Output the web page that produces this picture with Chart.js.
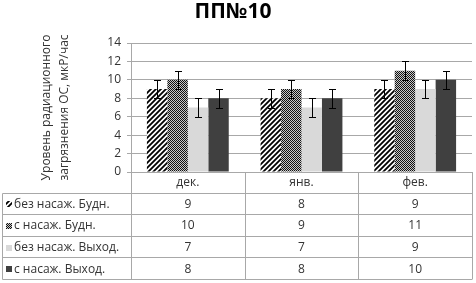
<!DOCTYPE html>
<html>
<head>
<meta charset="utf-8">
<script src="https://cdn.jsdelivr.net/npm/chart.js@4/dist/chart.umd.min.js"></script>
<style>
  html, body { margin: 0; padding: 0; background: #fff; }
  canvas { display: block; }
</style>
</head>
<body>
<canvas id="grafico" width="476" height="283"></canvas>
<script>
const titulo = 'ПП№10';
const eixoY = ['Уровень радиационного', 'загрязнения ОС, мкР/час'];
const meses = ['дек.', 'янв.', 'фев.'];
const series = ['без насаж. Будн.', 'с насаж. Будн.', 'без насаж. Выход.', 'с насаж. Выход.'];
const semNasBudn = [9, 8, 9];
const comNasBudn = [10, 9, 11];
const semNasVyh = [7, 7, 9];
const comNasVyh = [8, 8, 10];
const erros = [1, 1, 1];
const ticksY = [0, 2, 4, 6, 8, 10, 12, 14];

const texto = '#333';
const grade = '#a8a8a8';
Chart.defaults.font.family = "'Open Sans', sans-serif";
Chart.defaults.color = texto;

// padrões de preenchimento
function listras() {
  const c = document.createElement('canvas');
  c.width = 5; c.height = 5;
  const g = c.getContext('2d');
  g.fillStyle = '#fff'; g.fillRect(0, 0, 5, 5);
  g.strokeStyle = '#000'; g.lineWidth = 1.8;
  g.beginPath();
  g.moveTo(-1, 1); g.lineTo(1, -1);
  g.moveTo(0, 5); g.lineTo(5, 0);
  g.moveTo(4, 6); g.lineTo(6, 4);
  g.stroke();
  return g.createPattern(c, 'repeat');
}
function xadrez() {
  const c = document.createElement('canvas');
  c.width = 2; c.height = 2;
  const g = c.getContext('2d');
  g.fillStyle = '#c8c8c8'; g.fillRect(0, 0, 2, 2);
  g.fillStyle = '#111'; g.fillRect(0, 0, 1, 1); g.fillRect(1, 1, 1, 1);
  return g.createPattern(c, 'repeat');
}
const cores = [listras(), xadrez(), '#d9d9d9', '#404040'];
const valores = [semNasBudn, comNasBudn, semNasVyh, comNasVyh];

const barrasErro = {
  id: 'barrasErro',
  afterDatasetsDraw(chart) {
    const ctx = chart.ctx;
    const y = chart.scales.y;
    ctx.save();
    ctx.strokeStyle = '#000';
    ctx.lineWidth = 1;
    chart.data.datasets.forEach((ds, i) => {
      chart.getDatasetMeta(i).data.forEach((bar, j) => {
        const x = Math.round(bar.x) + 0.5;
        const top = Math.round(y.getPixelForValue(ds.data[j] + erros[j])) + 0.5;
        const bot = Math.round(y.getPixelForValue(ds.data[j] - erros[j])) + 0.5;
        ctx.beginPath();
        ctx.moveTo(x, top); ctx.lineTo(x, bot);
        ctx.moveTo(x - 3.5, top); ctx.lineTo(x + 3.5, top);
        ctx.moveTo(x - 3.5, bot); ctx.lineTo(x + 3.5, bot);
        ctx.stroke();
      });
    });
    ctx.restore();
  }
};

// tabela de dados abaixo do gráfico
const tabelaDados = {
  id: 'tabelaDados',
  afterDraw(chart) {
    const ctx = chart.ctx;
    const area = chart.chartArea;
    const x = chart.scales.x;
    const larg = (area.right - area.left) / meses.length;
    const alt = 21.6;
    const y0 = area.bottom;
    const esq = 2.5;
    const linha = k => Math.round(y0 + k * alt) - 0.5;
    ctx.save();
    ctx.strokeStyle = grade;
    ctx.lineWidth = 1;
    ctx.beginPath();
    for (let k = 1; k <= series.length + 1; k++) {
      ctx.moveTo(esq, linha(k)); ctx.lineTo(area.right, linha(k));
    }
    ctx.moveTo(esq, linha(1)); ctx.lineTo(esq, linha(series.length + 1));
    for (let i = 0; i <= meses.length; i++) {
      const xv = Math.round(area.left + i * larg) + 0.5;
      ctx.moveTo(xv, y0); ctx.lineTo(xv, linha(series.length + 1));
    }
    ctx.stroke();

    ctx.font = "12px 'Open Sans'";
    ctx.fillStyle = texto;
    ctx.textBaseline = 'middle';
    ctx.textAlign = 'center';
    meses.forEach((m, i) => ctx.fillText(m, x.getPixelForValue(i), y0 + alt * 0.5));
    series.forEach((s, k) => {
      const yc = y0 + alt * (k + 1.5);
      valores[k].forEach((v, i) => {
        ctx.fillStyle = texto;
        ctx.fillText(String(v), x.getPixelForValue(i), yc);
      });
      ctx.fillStyle = cores[k];
      ctx.fillRect(6, Math.round(yc) - 3, 6, 6);
      ctx.fillStyle = texto;
      ctx.textAlign = 'left';
      ctx.fillText(s, 14, yc);
      ctx.textAlign = 'center';
    });
    ctx.restore();
  }
};

const tituloPlugin = {
  id: 'tituloPlugin',
  afterDraw(chart) {
    const ctx = chart.ctx;
    ctx.save();
    ctx.font = "bold 21px 'Open Sans'";
    ctx.fillStyle = '#000';
    ctx.textAlign = 'center';
    ctx.textBaseline = 'middle';
    ctx.fillText(titulo, 233, 12);
    ctx.restore();
  }
};

new Chart(document.getElementById('grafico'), {
  type: 'bar',
  data: {
    labels: meses,
    datasets: series.map((s, k) => ({
      label: s,
      data: valores[k],
      backgroundColor: cores[k],
      borderWidth: 0,
      categoryPercentage: 0.72,
      barPercentage: 1.0
    }))
  },
  options: {
    responsive: false,
    animation: false,
    devicePixelRatio: 1,
    layout: { padding: { left: 0, right: 4, top: 43, bottom: 111 } },
    plugins: {
      legend: { display: false },
      title: { display: false },
      tooltip: { enabled: false }
    },
    scales: {
      x: {
        ticks: { display: false },
        grid: { display: false },
        border: { display: true, color: grade },
        afterFit: s => { s.height = 0; }
      },
      y: {
        min: 0,
        max: 14,
        afterBuildTicks: s => { s.ticks = ticksY.map(v => ({ value: v })); },
        ticks: { font: { size: 12 }, color: texto, padding: 6 },
        grid: { color: grade, tickLength: 4 },
        border: { display: true, color: grade },
        title: {
          display: true,
          text: eixoY,
          font: { size: 12, lineHeight: 1.5 },
          color: texto,
          padding: { top: 38, bottom: 0 }
        },
        afterFit: s => { s.width = 131; }
      }
    }
  },
  plugins: [barrasErro, tabelaDados, tituloPlugin]
});
</script>
</body>
</html>
